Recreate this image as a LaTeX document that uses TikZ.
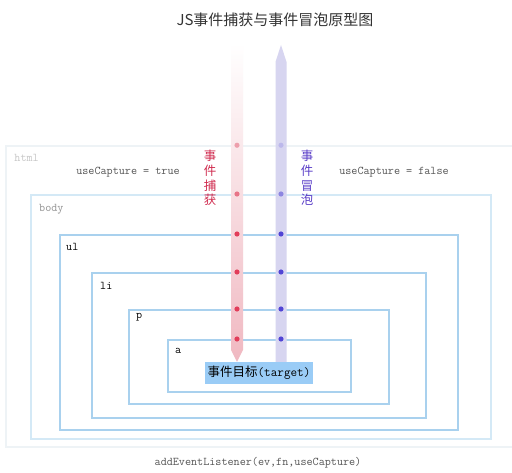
\documentclass[tikz,border=0pt]{standalone}
\usepackage{fontspec}
\newfontfamily\cjk{Noto Sans CJK SC}
\definecolor{boxblue}{HTML}{A9D1EE}
\definecolor{bodyline}{HTML}{D4E9F6}
\definecolor{htmlline}{HTML}{EEF3F6}
\definecolor{targetblue}{HTML}{9ACCF6}
\definecolor{cappink}{HTML}{F0B8C1}
\definecolor{capdot}{HTML}{E23D5A}
\definecolor{captext}{HTML}{D02A4E}
\definecolor{bubfill}{HTML}{D7D5F0}
\definecolor{bubdot}{HTML}{5145D5}
\definecolor{bubtext}{HTML}{5A3EC8}
\definecolor{notegray}{HTML}{555555}

\begin{document}
\begin{tikzpicture}[x=1pt, y=-1pt, layer/.style={draw=boxblue, line width=2pt, inner sep=0pt}, mono/.style={font=\fontsize{11.8}{13}\ttfamily, inner sep=0pt}, tag/.style={mono, anchor=base west}, vlabel/.style={font=\cjk\fontsize{12.5}{14.6}\selectfont, align=center, inner sep=0pt}]
	\useasboundingbox[fill=white] (0,0) rectangle (512,473);

	\node[layer, draw=htmlline, line width=1.5pt, minimum width=507pt, minimum height=301pt] (html) at (259.5,296.5) {};
	\node[layer, draw=bodyline, minimum width=460pt, minimum height=244pt] (body) at (261,317) {};
	\node[layer, minimum width=398pt, minimum height=195pt] (ul) at (259,332.5) {};
	\node[layer, minimum width=334pt, minimum height=145pt] (li) at (259,345.5) {};
	\node[layer, minimum width=260pt, minimum height=94pt] (p) at (259,357) {};
	\node[layer, minimum width=183pt, minimum height=52pt] (a) at (259.5,366) {};

	\node[tag, text=black!22] (htmlL) at ([shift={(9,16)}]html.north west) {html};
	\node[tag, text=black!42] (bodyL) at ([shift={(9,18)}]body.north west) {body};
	\node[tag] (ulL) at ([shift={(7,17)}]ul.north west) {ul};
	\node[tag] (liL) at ([shift={(9,18)}]li.north west) {li};
	\node[tag] (pL) at ([shift={(8,10)}]p.north west) {p};
	\node[tag] (aL) at ([shift={(8,14.5)}]a.north west) {a};

	\node[fill=targetblue, minimum width=108pt, minimum height=22pt, inner sep=0pt] (target) at (259,373) {};

	\coordinate (capTop) at (237,43);
	\coordinate (capTip) at (capTop |- target.north);
	\coordinate (bubTip) at (281,45);
	\coordinate (bubBot) at (bubTip |- target.north);

	\shade[top color=white, bottom color=cappink] ([xshift=-6pt]capTop) -- ([xshift=6pt]capTop) -- ([shift={(6pt,12pt)}]capTip) -- (capTip) -- ([shift={(-6pt,12pt)}]capTip) -- cycle;
	\fill[bubfill] (bubTip) -- ([shift={(5.5pt,-17pt)}]bubTip) -- ([xshift=5.5pt]bubBot) -- ([xshift=-5.5pt]bubBot) -- ([shift={(-5.5pt,-17pt)}]bubTip) -- cycle;

	\foreach \b/\c in {html/20, body/55, ul/100, li/100, p/100, a/100} {
		\fill[capdot!\c!cappink] (capTop |- \b.north) circle (2.6pt);
		\fill[bubdot!\c!bubfill] (bubTip |- \b.north) circle (2.6pt);
	}

	\node[inner sep=0pt] (targetL) at (target) {{\cjk\fontsize{12.5}{14}\selectfont 事件目标}{\fontsize{12.8}{14}\ttfamily(target)}};

	\node[vlabel, text=captext] (capL) at (210,178) {事\\件\\捕\\获};
	\node[vlabel, text=bubtext] (bubL) at (307,178) {事\\件\\冒\\泡};

	\node[mono, text=notegray] (capNote) at (128,172) {useCapture = true};
	\node[mono, text=notegray] (bubNote) at (394,172) {useCapture = false};

	\node[font=\cjk\fontsize{15}{18}\selectfont, text=black!80] (title) at (275,20) {JS事件捕获与事件冒泡原型图};
	\node[mono, text=notegray] (api) at (258,463) {addEventListener(ev,fn,useCapture)};
\end{tikzpicture}
\end{document}
